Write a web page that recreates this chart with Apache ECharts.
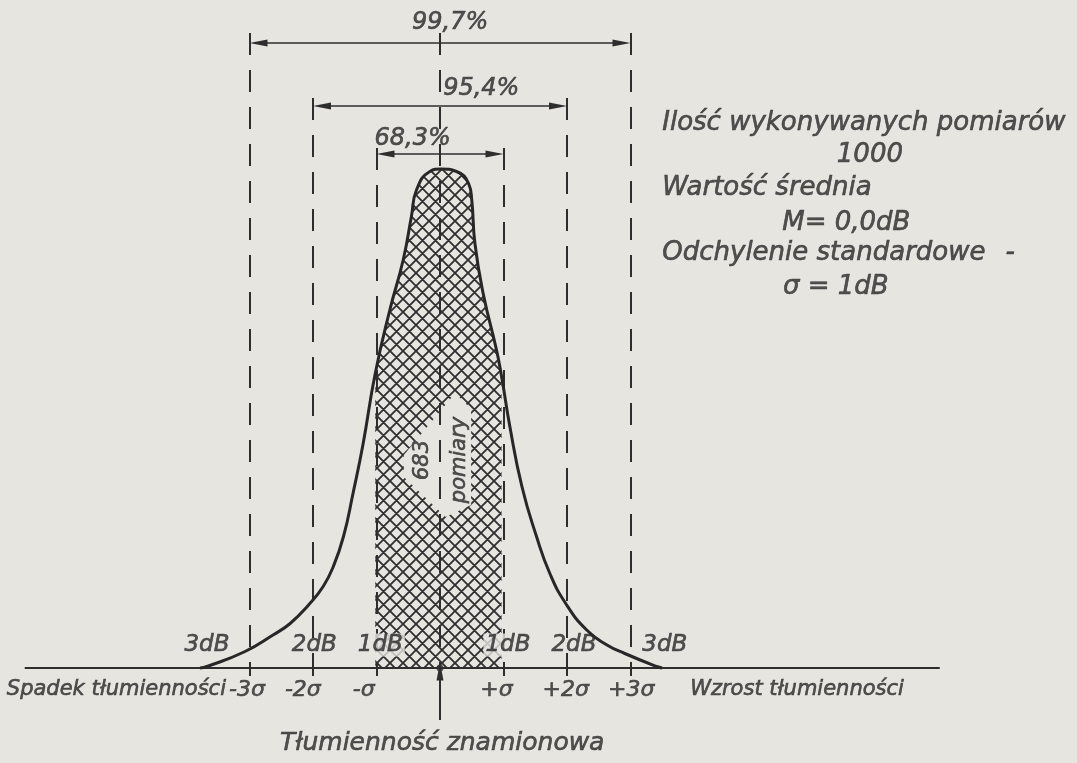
<!DOCTYPE html>
<html><head><meta charset="utf-8">
<script src="https://cdn.jsdelivr.net/npm/echarts@6/dist/echarts.min.js"></script>
<style>html,body{margin:0;padding:0;background:#e6e5e0}#c{width:1077px;height:763px}</style>
</head><body><div id="c"></div>
<script>
// ---------- data (x in σ units, y in relative frequency units) ----------
const curveX = [-3.78,-3.67,-3.07,-2.63,-2.36,-2.07,-1.84,-1.68,-1.52,-1.37,-1.21,-1.02,-0.79,-0.58,-0.45,-0.37,-0.16,0.02,0.26,0.45,0.50,0.55,0.68,0.89,0.97,1.10,1.29,1.52,1.73,1.98,2.31,2.63,2.91,3.41,3.50];
const curveY = [0,0.3,3.3,6.6,8.9,12.6,16.3,20.3,26.3,34.9,44.9,58.9,71.6,81.6,90.3,95.6,99.3,99.8,99.3,96.9,93.6,84.9,74.9,63.6,58.3,48.3,36.3,26.3,18.9,12.9,7.6,4.6,2.9,0.3,0];
const sigmaTicks = [-3,-2,-1,0,1,2,3];
const sigmaLabels = ['-3σ','-2σ','-σ','','+σ','+2σ','+3σ'];
const dbLabels = ['3dB','2dB','1dB','1dB','2dB','3dB'];
const rangeSigma = [3,2,1];
const rangeLabels = ['99,7%','95,4%','68,3%'];
const totalMeasurements = 1000;
const insideMeasurements = 683;

// ---------- layout (pixel scale of the drawing) ----------
const W=1077,H=763,X0=440,SX=63.5,Y0=668,SY=5;
const PAPER='#e6e5e0', INK='#2e2e2e', TXT='#2a2a2a', FONT='DejaVu Sans';

// label anchor positions (data units)
const sigmaLabelX = [-3.04,-2.16,-1.2,0,0.89,1.98,3.01];
const dbLabelX = [-3.67,-1.98,-0.94,1.07,2.11,3.54];
const rangeTop = [127,114,104];            // top of dashed guides
const rangeArrowY = [125,112.4,102.8];
const rangeLabelPos = [[0.16,129],[0.65,115.8],[-0.43,105.8]];
const clearPoly = [[0.24,55],[0.49,51.8],[0.49,32.6],[0.09,30.2],[-0.57,38.2],[-0.57,42.6]];

function makeHatch(){
  const P=13,c=document.createElement('canvas');c.width=P;c.height=P;
  const g=c.getContext('2d');
  g.fillStyle=PAPER;g.fillRect(0,0,P,P);
  g.strokeStyle='#2f2f2f';g.lineWidth=1.8;g.beginPath();
  for(const o of [-P,0,P]){g.moveTo(o,0);g.lineTo(o+P,P);g.moveTo(o,P);g.lineTo(o+P,0);}
  g.stroke();return c;
}

const curve = curveX.map((x,i)=>[x,curveY[i]]);
const hatch = curve.filter(p=>p[0]>=-1.02 && p[0]<=0.97);

function txt(x,y,text,o){
  o=o||{};
  return {value:[x,y],name:text,label:{show:true,position:'inside',formatter:text,
    fontSize:o.size||22,align:o.align||'center',verticalAlign:'middle',rotate:o.rotate||0,
    fontFamily:FONT,fontStyle:'italic',color:TXT,textBorderColor:TXT,textBorderWidth:0.6,
    backgroundColor:o.bg||'transparent',padding:o.bg?[0,2]:0}};
}

const labels=[];
rangeLabels.forEach((t,i)=>labels.push(txt(rangeLabelPos[i][0],rangeLabelPos[i][1],t,{size:24})));
dbLabels.forEach((t,i)=>labels.push(txt(dbLabelX[i],4.6,t,{size:23,bg:(i===2||i===3)?PAPER:null})));
sigmaLabels.forEach((t,i)=>{ if(t) labels.push(txt(sigmaLabelX[i],-4.4,t,{size:22})); });
labels.push(txt(-3.37,-4.4,'Spadek tłumienności',{size:21,align:'right'}));
labels.push(txt(3.94,-4.4,'Wzrost tłumienności',{size:21,align:'left'}));
labels.push(txt(-2.52,-15,'Tłumienność znamionowa',{size:25,align:'left'}));
labels.push(txt(3.5,109,'Ilość wykonywanych pomiarów',{size:26,align:'left'}));
labels.push(txt(6.77,102.6,String(totalMeasurements),{size:26}));
labels.push(txt(3.5,96,'Wartość średnia',{size:26,align:'left'}));
labels.push(txt(5.39,89,'M= 0,0dB',{size:26,align:'left'}));
labels.push(txt(3.5,83,'Odchylenie standardowe',{size:26,align:'left'}));
labels.push(txt(8.98,83,'-',{size:26}));
labels.push(txt(5.4,76.2,'σ = 1dB',{size:26,align:'left'}));
labels.push(txt(-0.27,41.6,String(insideMeasurements),{size:21,rotate:90}));
labels.push(txt(0.31,41.6,'pomiary',{size:21,rotate:90}));

const ARROW='path://M3,0L6,18L0,18Z';
const AS=[7,18];
const inset=9/SX;

const dashData=[];
sigmaTicks.forEach(k=>{
  const top = k===0?127:rangeTop[rangeSigma.indexOf(Math.abs(k))];
  dashData.push([{coord:[k,top]},{coord:[k,0]}]);
});
const tickData = sigmaTicks.map(k=>[{coord:[k,1.2]},{coord:[k,-1.6]}]);
const arrowData = rangeSigma.map((k,i)=>[
  {coord:[-k+inset,rangeArrowY[i]],symbol:ARROW,symbolSize:AS},
  {coord:[k-inset,rangeArrowY[i]],symbol:ARROW,symbolSize:AS}]);

const chart=echarts.init(document.getElementById('c'),null,{renderer:'canvas'});
chart.setOption({
  animation:false,
  backgroundColor:PAPER,
  grid:{left:0,right:0,top:0,bottom:0},
  xAxis:{type:'value',min:-X0/SX,max:(W-X0)/SX,show:false},
  yAxis:{type:'value',min:-(H-Y0)/SY,max:Y0/SY,show:false},
  series:[
    {type:'line',data:hatch,smooth:0.5,symbol:'none',silent:true,z:2,
     lineStyle:{width:0},areaStyle:{color:{image:makeHatch(),repeat:'repeat'},opacity:1}},
    {type:'custom',z:3,silent:true,data:[[0,0]],
     renderItem:(p,api)=>({type:'polygon',shape:{points:clearPoly.map(q=>api.coord(q))},style:{fill:PAPER}})},
    {type:'line',data:[],z:4,silent:true,
     markLine:{silent:true,symbol:'none',label:{show:false},
       lineStyle:{color:INK,width:2,type:[22,15]},data:dashData}},
    {type:'line',data:[[-6.54,0],[7.87,0]],symbol:'none',z:4,silent:true,
     lineStyle:{color:INK,width:2},
     markLine:{silent:true,symbol:'none',label:{show:false},lineStyle:{color:INK,width:2,type:'solid'},
       data:tickData.concat([[{coord:[0,-10.4],symbol:'none'},{coord:[0,-0.7],symbol:ARROW,symbolSize:AS}]])}},
    {type:'line',data:[],z:4,silent:true,
     markLine:{silent:true,symbol:'none',label:{show:false},
       lineStyle:{color:INK,width:1.6,type:'solid'},data:arrowData}},
    {type:'line',data:curve,smooth:0.5,symbol:'none',z:5,silent:true,
     lineStyle:{color:'#272727',width:3}},
    {type:'scatter',data:[[0,0]],symbolSize:7,itemStyle:{color:INK},z:6,silent:true},
    {type:'scatter',data:labels,symbolSize:0,z:7,silent:true}
  ]
});
</script></body></html>
